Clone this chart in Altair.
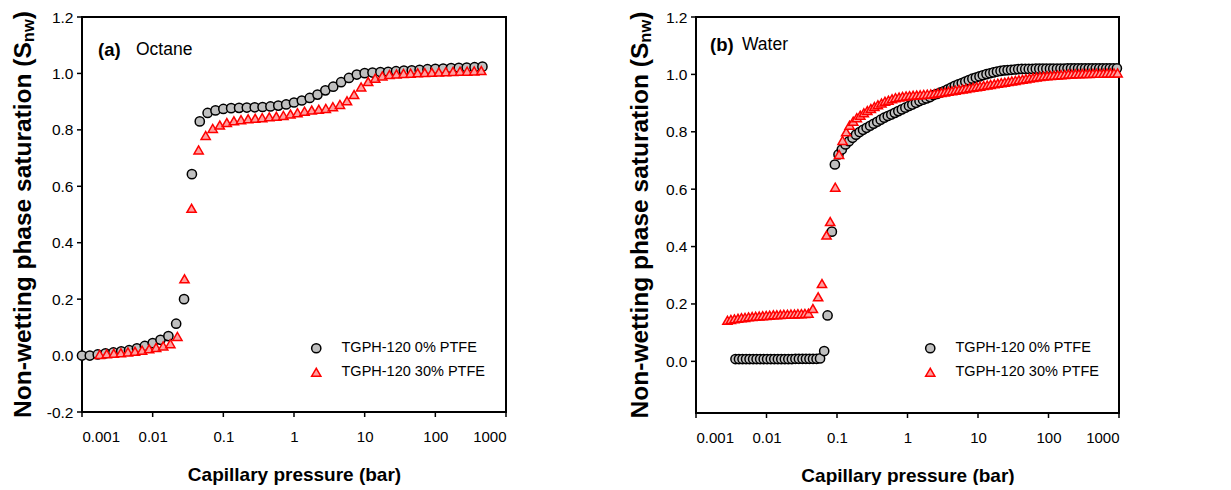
import altair as alt
import pandas as pd

FONT = "Liberation Sans"
S0 = "TGPH-120 0% PTFE"
S30 = "TGPH-120 30% PTFE"

# ---------------- Panel (a) Octane ----------------
a0_x = [0.001, 0.00129, 0.00167, 0.00215, 0.00278, 0.00359, 0.00464, 0.00599, 0.00774,
        0.01, 0.0129, 0.0167, 0.0215, 0.0278, 0.0359, 0.0464, 0.0599, 0.0774,
        0.1, 0.129, 0.167, 0.215, 0.278, 0.359, 0.464, 0.599, 0.774,
        1, 1.29, 1.67, 2.15, 2.78, 3.59, 4.64, 5.99, 7.74,
        10, 12.9, 16.7, 21.5, 27.8, 35.9, 46.4, 59.9, 77.4,
        100, 129, 167, 215, 278, 359, 464]
a0_y = [0.000, 0.000, 0.004, 0.008, 0.011, 0.015, 0.019, 0.026, 0.034,
        0.044, 0.056, 0.069, 0.113, 0.200, 0.643, 0.830, 0.860, 0.869,
        0.874, 0.877, 0.878, 0.879, 0.880, 0.881, 0.883, 0.886, 0.890,
        0.897, 0.904, 0.913, 0.925, 0.940, 0.953, 0.969, 0.984, 0.996,
        1.001, 1.003, 1.005, 1.006, 1.008, 1.010, 1.011, 1.013, 1.015,
        1.016, 1.017, 1.019, 1.020, 1.021, 1.022, 1.024]
a30_x = [0.00178, 0.00224, 0.00282, 0.00355, 0.00447, 0.00562, 0.00708, 0.00891, 0.0112, 0.0141,
         0.0178, 0.0224, 0.0282, 0.0355, 0.0447, 0.0562, 0.0708, 0.0891, 0.112, 0.141,
         0.178, 0.224, 0.282, 0.355, 0.447, 0.562, 0.708, 0.891, 1.12, 1.41,
         1.78, 2.24, 2.82, 3.55, 4.47, 5.62, 7.08, 8.91, 11.2, 14.1,
         17.8, 22.4, 28.2, 35.5, 44.7, 56.2, 70.8, 89.1, 112, 141,
         178, 224, 282, 355, 447]
a30_y = [0.004, 0.006, 0.008, 0.010, 0.013, 0.015, 0.019, 0.024, 0.029, 0.034,
         0.042, 0.068, 0.272, 0.522, 0.729, 0.780, 0.805, 0.817, 0.826, 0.832,
         0.836, 0.839, 0.841, 0.843, 0.846, 0.848, 0.851, 0.856, 0.861, 0.866,
         0.870, 0.873, 0.876, 0.882, 0.890, 0.903, 0.925, 0.952, 0.971, 0.983,
         0.991, 0.996, 0.998, 1.000, 1.001, 1.002, 1.003, 1.004, 1.005, 1.006,
         1.007, 1.008, 1.008, 1.009, 1.010]

# ---------------- Panel (b) Water ----------------
b0_x = [0.00363, 0.00407, 0.00457, 0.00513, 0.00575, 0.00646, 0.00724, 0.00813, 0.00912, 0.0102,
        0.0115, 0.0129, 0.0145, 0.0162, 0.0182, 0.0204, 0.0229, 0.0257, 0.0288, 0.0324,
        0.0363, 0.0407, 0.0457, 0.0513, 0.0575, 0.0658, 0.0735, 0.0845,
        0.0933, 0.105, 0.117, 0.132, 0.148, 0.166, 0.186, 0.209, 0.234, 0.263,
        0.295, 0.331, 0.372, 0.417, 0.468, 0.525, 0.589, 0.661, 0.741, 0.832,
        0.933, 1.05, 1.17, 1.32, 1.48, 1.66, 1.86, 2.09, 2.34, 2.63,
        2.95, 3.31, 3.72, 4.17, 4.68, 5.25, 5.89, 6.61, 7.41, 8.32,
        9.33, 10.5, 11.7, 13.2, 14.8, 16.6, 18.6, 20.9, 23.4, 26.3,
        29.5, 33.1, 37.2, 41.7, 46.8, 52.5, 58.9, 66.1, 74.1, 83.2,
        93.3, 105, 117, 132, 148, 166, 186, 209, 234, 263,
        295, 331, 372, 417, 468, 525, 589, 661, 741, 832, 933]
b0_y = [0.008, 0.008, 0.008, 0.008, 0.008, 0.008, 0.008, 0.008, 0.008, 0.008,
        0.008, 0.008, 0.008, 0.008, 0.008, 0.008, 0.008, 0.009, 0.009, 0.009,
        0.009, 0.009, 0.009, 0.009, 0.010, 0.036, 0.160, 0.452,
        0.686, 0.721, 0.738, 0.756, 0.767, 0.779, 0.790, 0.799, 0.807, 0.814,
        0.821, 0.828, 0.835, 0.842, 0.849, 0.855, 0.860, 0.866, 0.872, 0.878,
        0.884, 0.890, 0.895, 0.901, 0.907, 0.912, 0.916, 0.921, 0.928, 0.932,
        0.937, 0.942, 0.948, 0.954, 0.960, 0.965, 0.970, 0.975, 0.980, 0.985,
        0.989, 0.993, 0.997, 1.001, 1.004, 1.007, 1.010, 1.012, 1.014, 1.015,
        1.016, 1.017, 1.018, 1.019, 1.019, 1.019, 1.019, 1.020, 1.020, 1.020,
        1.020, 1.020, 1.020, 1.020, 1.020, 1.020, 1.021, 1.021, 1.021, 1.021,
        1.021, 1.021, 1.021, 1.021, 1.021, 1.021, 1.021, 1.021, 1.021, 1.021, 1.021]
b30_x = [0.00279, 0.00313, 0.00351, 0.00394, 0.00442, 0.00496, 0.00557, 0.00625, 0.00701, 0.00787,
         0.00883, 0.00991, 0.0111, 0.0125, 0.0140, 0.0157, 0.0176, 0.0198, 0.0222, 0.0249,
         0.0279, 0.0313, 0.0351, 0.0394, 0.0455, 0.054, 0.0612, 0.071, 0.080, 0.0945,
         0.107, 0.120, 0.135, 0.151, 0.170, 0.191, 0.214, 0.240, 0.269, 0.302,
         0.339, 0.380, 0.427, 0.479, 0.537, 0.603, 0.676, 0.759, 0.851, 0.955,
         1.07, 1.20, 1.35, 1.51, 1.70, 1.91, 2.14, 2.40, 2.69, 3.02,
         3.39, 3.80, 4.27, 4.79, 5.37, 6.03, 6.76, 7.59, 8.51, 9.55,
         10.7, 12.0, 13.5, 15.1, 17.0, 19.1, 21.4, 24.0, 26.9, 30.2,
         33.9, 38.0, 42.7, 47.9, 53.7, 60.3, 67.6, 75.9, 85.1, 95.5,
         107, 120, 135, 151, 170, 191, 214, 240, 269, 302,
         339, 380, 427, 479, 537, 603, 676, 759, 851, 955]
b30_y = [0.143, 0.146, 0.148, 0.150, 0.152, 0.153, 0.155, 0.156, 0.157, 0.158,
         0.159, 0.160, 0.161, 0.162, 0.162, 0.163, 0.164, 0.164, 0.165, 0.165,
         0.166, 0.166, 0.167, 0.168, 0.184, 0.225, 0.271, 0.440, 0.487, 0.607,
         0.721, 0.770, 0.800, 0.823, 0.837, 0.849, 0.858, 0.866, 0.874, 0.881,
         0.888, 0.894, 0.900, 0.906, 0.910, 0.915, 0.919, 0.921, 0.923, 0.925,
         0.926, 0.927, 0.928, 0.929, 0.930, 0.931, 0.932, 0.933, 0.935, 0.937,
         0.939, 0.941, 0.943, 0.945, 0.947, 0.949, 0.951, 0.953, 0.955, 0.957,
         0.959, 0.961, 0.963, 0.965, 0.967, 0.969, 0.971, 0.973, 0.975, 0.977,
         0.979, 0.981, 0.983, 0.985, 0.987, 0.989, 0.991, 0.993, 0.994, 0.995,
         0.996, 0.997, 0.998, 0.999, 1.000, 1.001, 1.001, 1.002, 1.002, 1.003,
         1.003, 1.003, 1.004, 1.004, 1.004, 1.004, 1.005, 1.005, 1.005, 1.005]

X_TICKS = [0.001, 0.01, 0.1, 1, 10, 100, 1000]
YA_TICKS = [-0.2, 0.0, 0.2, 0.4, 0.6, 0.8, 1.0, 1.2]
YB_TICKS = [0.0, 0.2, 0.4, 0.6, 0.8, 1.0, 1.2]

Y_MAIN = "Non-wetting phase saturation (S"
Y_SUB = "nw"
Y_END = ")"
X_TITLE = "Capillary pressure (bar)"


def make_df(x0, y0, x30, y30):
    return pd.DataFrame({
        "p": x0 + x30,
        "s": y0 + y30,
        "series": [S0] * len(x0) + [S30] * len(x30),
    })


def text_layer(t, x, y, size, weight="normal", angle=0, align="left", baseline="middle"):
    kw = dict(align=align, baseline=baseline, font=FONT, fontSize=size,
              fontWeight=weight, color="black")
    if angle:
        kw["angle"] = angle
    return alt.Chart(pd.DataFrame({"t": [t]})).mark_text(**kw).encode(
        text="t:N", x=alt.value(x), y=alt.value(y))


def bar(x0, x1, y0, y1):
    # filled strip used for the plot frame
    return alt.Chart(pd.DataFrame({"f": [0]})).mark_rect(color="#000000", opacity=1).encode(
        x=alt.value(x0), x2=alt.value(x1), y=alt.value(y0), y2=alt.value(y1))


def panel(df, ydom, yticks, W, H, tag, name, tag_x, name_x, lab_y, title_x):
    leg = alt.Legend(orient="none", legendX=227, legendY=324, title=None,
                     labelFont=FONT, labelFontSize=14.5, labelColor="black",
                     symbolSize=85, symbolStrokeWidth=1.5, labelOffset=18,
                     rowPadding=8, padding=0)
    dom = [S0, S30]
    xs = alt.Scale(type="log", domain=[0.001, 1000], nice=False)
    ys = alt.Scale(domain=ydom, nice=False, zero=False)

    xt = alt.Chart(pd.DataFrame({"p": X_TICKS})).mark_tick(
        color="#000000", thickness=1.5, size=5, opacity=1, orient="vertical"
    ).encode(x=alt.X("p:Q", scale=xs), y=alt.value(H + 2.5))
    yt = alt.Chart(pd.DataFrame({"s": yticks})).mark_tick(
        color="#000000", thickness=1.5, size=5, opacity=1, orient="horizontal"
    ).encode(y=alt.Y("s:Q", scale=ys), x=alt.value(-2.5))

    pts = alt.Chart(df).mark_point(size=85, strokeWidth=1.5, opacity=1, fillOpacity=1).encode(
        x=alt.X("p:Q", scale=xs, axis=alt.Axis(values=X_TICKS, format="~g", title=X_TITLE,
                                                domain=False, ticks=False)),
        y=alt.Y("s:Q", scale=ys,
                axis=alt.Axis(values=yticks, title=None, domain=False, ticks=False,
                              labelExpr="datum.value < 0 ? '-' + format(-datum.value, '.1f') : format(datum.value, '.1f')")),
        shape=alt.Shape("series:N", scale=alt.Scale(domain=dom, range=["circle", "triangle-up"]), legend=leg),
        fill=alt.Fill("series:N", scale=alt.Scale(domain=dom, range=["#c0c0c0", "#ff9f9f"]), legend=leg),
        stroke=alt.Stroke("series:N", scale=alt.Scale(domain=dom, range=["#000000", "#ff0000"]), legend=leg),
    )
    fs_main, fs_sub = 24.5, 16.5
    main_end = H / 2 - 172.3
    close_start = H / 2 - 195.2
    layers = [
        bar(-1, W + 1, -1, 1),
        bar(-1, W + 1, H - 1, H + 1),
        bar(-1, 1, -1, H + 1),
        bar(W - 1, W + 1, -1, H + 1),
        xt,
        yt,
        pts,
        text_layer(Y_MAIN, title_x, main_end, fs_main, "bold", 270, "right", "alphabetic"),
        text_layer(Y_SUB, title_x + 3, main_end, fs_sub, "bold", 270, "left", "alphabetic"),
        text_layer(Y_END, title_x, close_start, fs_main, "bold", 270, "left", "alphabetic"),
        text_layer(tag, tag_x, lab_y, 18.5, "bold"),
        text_layer(name, name_x, lab_y, 17.5, "normal"),
    ]
    return alt.layer(*layers).properties(width=W, height=H)


pa = panel(make_df(a0_x, a0_y, a30_x, a30_y), [-0.2, 1.2], YA_TICKS, 424, 395,
           "(a)", "Octane", 16, 54, 33, -51)
pb = panel(make_df(b0_x, b0_y, b30_x, b30_y), [-0.18, 1.2], YB_TICKS, 423, 396,
           "(b)", "Water", 14, 46, 28, -48)

chart = alt.hconcat(pa, pb, spacing=190, bounds="flush").resolve_scale(
    shape="independent", fill="independent", stroke="independent"
).properties(
    padding={"left": 3, "top": 2, "right": 5, "bottom": 0}
).configure_view(
    strokeWidth=0
).configure_axis(
    labelFont=FONT, titleFont=FONT, grid=False, labelColor="#000000", titleColor="#000000"
).configure_axisX(
    labelFontSize=15, labelPadding=17, titleFontSize=19,
    titleFontWeight="bold", titlePadding=21
).configure_axisY(
    labelFontSize=15.5, labelPadding=9
)

chart.save("out.html", embed_options={"renderer": "svg", "actions": False})
